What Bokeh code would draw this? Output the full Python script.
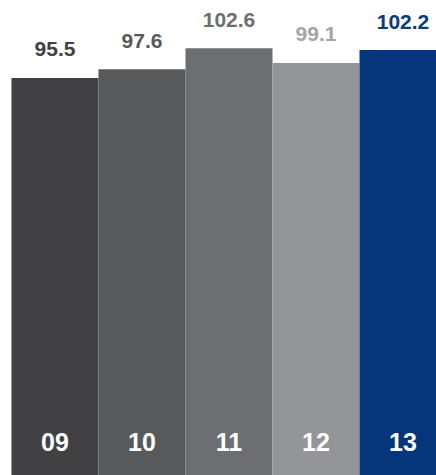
from bokeh.plotting import figure
from bokeh.models import ColumnDataSource, Range1d
from bokeh.core.properties import value
from bokeh.embed import file_html
from bokeh.resources import INLINE

# Yearly index values
years = ["09", "10", "11", "12", "13"]
values = [95.5, 97.6, 102.6, 99.1, 102.2]
bar_colors = ["#414042", "#58595b", "#6d6e71", "#939598", "#05357b"]
label_colors = ["#414042", "#58595b", "#6d6e71", "#a3a5a8", "#0b3a7e"]

xs = list(range(len(years)))
src = ColumnDataSource(dict(
    x=xs,
    top=values,
    year=years,
    val=[f"{v:.1f}" for v in values],
    bar_color=bar_colors,
    label_color=label_colors,
    zero=[0] * len(xs),
))

p = figure(
    width=436, height=475,
    x_range=Range1d(-0.626, 4.385),
    y_range=Range1d(0, 114.1),
    output_backend="svg", toolbar_location=None,
    min_border=0, min_border_left=0, min_border_right=0,
    min_border_top=0, min_border_bottom=0,
)
p.axis.visible = False
p.grid.visible = False
p.outline_line_color = None
p.background_fill_color = "white"
p.border_fill_color = "white"

p.vbar(x="x", top="top", bottom=0, width=1.0, source=src,
       fill_color="bar_color", line_color=None)

# value labels above each bar
p.text(x="x", y="top", text="val", source=src,
       text_align="center", text_baseline="alphabetic", y_offset=-28.5,
       text_font=value("Liberation Sans"), text_font_style="bold",
       text_font_size="21px", text_color="label_color")

# year labels inside the bars
p.text(x="x", y="zero", text="year", source=src,
       text_align="center", text_baseline="alphabetic", y_offset=-33.7,
       text_font=value("Liberation Sans"), text_font_style="bold",
       text_font_size="25px", text_color="white")

open("out.html", "w").write(file_html(p, INLINE))
